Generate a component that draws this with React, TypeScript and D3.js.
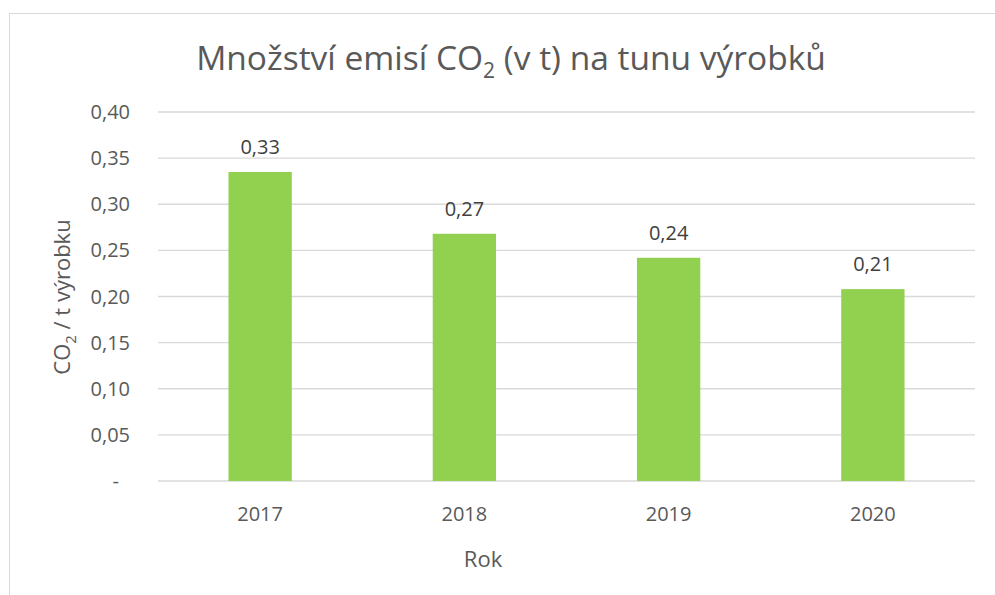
import React, { useEffect, useRef } from "react";
import * as d3 from "d3";

const years = ["2017", "2018", "2019", "2020"];
const emissions = [0.335, 0.268, 0.242, 0.208];
const valueLabels = ["0,33", "0,27", "0,24", "0,21"];
const yTicks = [0, 0.05, 0.1, 0.15, 0.2, 0.25, 0.3, 0.35, 0.4];

const W = 995;
const H = 595;
const FONT = "'Open Sans', 'Noto Sans', sans-serif";
const TEXT = "#595959";

export default function App() {
  const ref = useRef<SVGSVGElement>(null);

  useEffect(() => {
    const svg = d3.select(ref.current);
    svg.selectAll("*").remove();

    const left = 158, right = 975, top = 112, bottom = 481;

    const x = d3.scaleBand().domain(years).range([left, right]).padding(0);
    const y = d3.scaleLinear().domain([0, 0.4]).range([bottom, top]);

    // chart border
    svg.append("rect")
      .attr("x", 9.5).attr("y", 13.5)
      .attr("width", W).attr("height", H)
      .attr("fill", "white").attr("stroke", "#d9d9d9");

    // title
    const title = svg.append("text")
      .attr("x", 511).attr("y", 70)
      .attr("text-anchor", "middle")
      .attr("font-family", FONT).attr("font-size", 33.5)
      .attr("fill", TEXT);
    title.append("tspan").text("Množství emisí CO");
    title.append("tspan").attr("font-size", 21).attr("dy", 8).text("2");
    title.append("tspan").attr("dy", -8).text(" (v t) na tunu výrobků");

    // gridlines
    svg.append("g").selectAll("line")
      .data(yTicks)
      .join("line")
      .attr("x1", left).attr("x2", right)
      .attr("y1", d => y(d)).attr("y2", d => y(d))
      .attr("stroke", "#d9d9d9").attr("stroke-width", 1.3);

    // y tick labels
    svg.append("g").selectAll("text")
      .data(yTicks)
      .join("text")
      .attr("x", d => (d === 0 ? 119 : 130))
      .attr("y", d => y(d) + 7)
      .attr("text-anchor", "end")
      .attr("font-family", FONT).attr("font-size", 20)
      .attr("fill", TEXT)
      .text(d => (d === 0 ? "-" : d3.format(".2f")(d).replace(".", ",")));

    // bars
    const bw = x.bandwidth() * 0.31;
    svg.append("g").selectAll("rect")
      .data(emissions)
      .join("rect")
      .attr("x", (d, i) => x(years[i])! + x.bandwidth() / 2 - bw / 2)
      .attr("y", d => y(d))
      .attr("width", bw)
      .attr("height", d => y(0) - y(d))
      .attr("fill", "#92d050");

    // value labels
    svg.append("g").selectAll("text")
      .data(emissions)
      .join("text")
      .attr("x", (d, i) => x(years[i])! + x.bandwidth() / 2)
      .attr("y", d => y(d) - 18)
      .attr("text-anchor", "middle")
      .attr("font-family", FONT).attr("font-size", 20)
      .attr("fill", "#404040")
      .text((d, i) => valueLabels[i]);

    // x labels
    svg.append("g").selectAll("text")
      .data(years)
      .join("text")
      .attr("x", d => x(d)! + x.bandwidth() / 2)
      .attr("y", 521)
      .attr("text-anchor", "middle")
      .attr("font-family", FONT).attr("font-size", 20)
      .attr("fill", TEXT)
      .text(d => d);

    // axis titles
    svg.append("text")
      .attr("x", 483).attr("y", 567)
      .attr("text-anchor", "middle")
      .attr("font-family", FONT).attr("font-size", 22)
      .attr("fill", TEXT)
      .text("Rok");

    const yt = svg.append("text")
      .attr("transform", "translate(70,297) rotate(-90)")
      .attr("text-anchor", "middle")
      .attr("font-family", FONT).attr("font-size", 22)
      .attr("fill", TEXT);
    yt.append("tspan").text("CO");
    yt.append("tspan").attr("font-size", 15).attr("dy", 6).text("2");
    yt.append("tspan").attr("dy", -6).text(" / t výrobku");
  }, []);

  return (
    <svg
      ref={ref}
      width={W}
      height={H}
      style={{ position: "absolute", left: 0, top: 0, background: "white" }}
    />
  );
}
